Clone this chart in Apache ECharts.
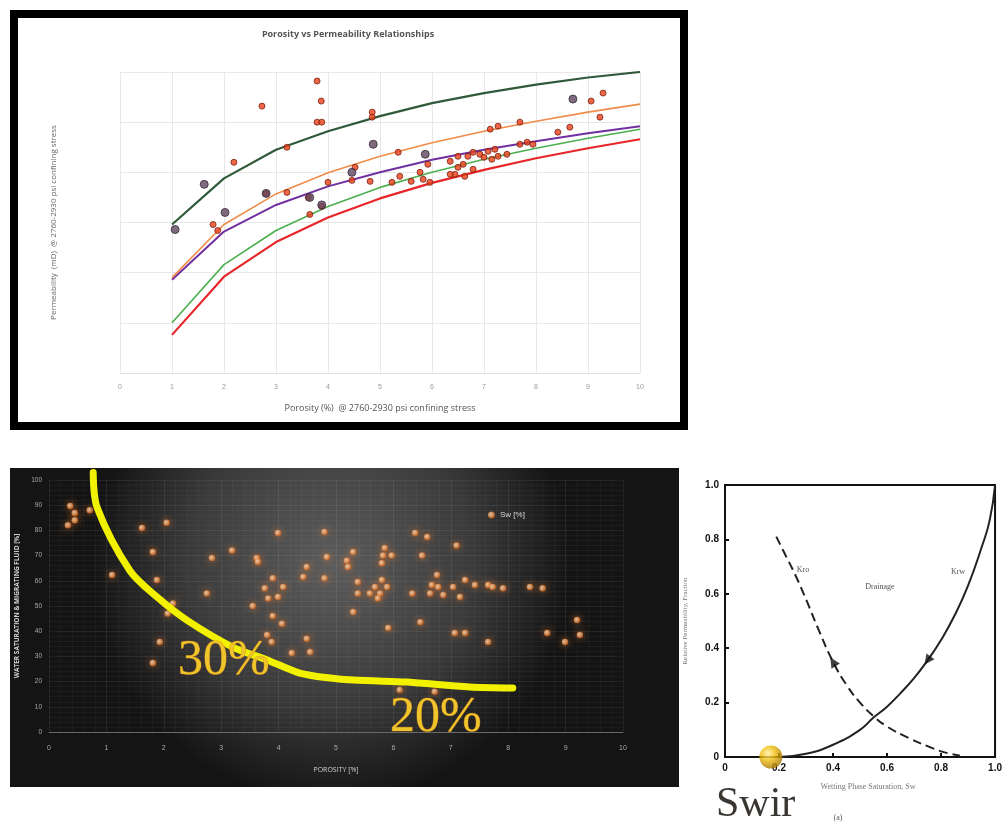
<!DOCTYPE html>
<html>
<head>
<meta charset="utf-8">
<script src="https://cdn.jsdelivr.net/npm/echarts@6/dist/echarts.min.js"></script>
<style>
html,body{margin:0;padding:0;background:#fff;}
#c{width:1005px;height:827px;}
</style>
</head>
<body>
<div id="c"></div>
<script>
// ---------- Top chart: Porosity vs Permeability ----------
const topTitle = 'Porosity vs Permeability Relationships';
const topXName = 'Porosity (%)  @ 2760-2930 psi confining stress';
const topYName = 'Permeability  (mD)  @ 2760-2930 psi confining stress';
const porosityX = [1, 2, 3, 4, 5, 6, 7, 8, 9, 10];
const curveDarkGreen = [2.96, 3.88, 4.45, 4.82, 5.12, 5.38, 5.58, 5.75, 5.89, 6.0];
const curveOrange    = [1.9, 2.96, 3.57, 3.99, 4.32, 4.59, 4.82, 5.02, 5.2, 5.36];
const curvePurple    = [1.86, 2.82, 3.35, 3.72, 4.0, 4.25, 4.45, 4.62, 4.78, 4.92];
const curveGreen     = [1.0, 2.16, 2.84, 3.32, 3.7, 4.0, 4.26, 4.48, 4.68, 4.86];
const curveRed       = [0.76, 1.92, 2.61, 3.1, 3.48, 3.79, 4.05, 4.28, 4.48, 4.66];
const topRedPts = [
  [1.79,2.96],[1.88,2.84],[2.19,4.2],[2.73,5.32],[3.21,4.5],[3.79,5.82],[3.87,5.42],[3.79,5.0],[3.88,5.0],
  [2.81,3.58],[3.21,3.6],[3.62,3.5],[3.88,3.32],[3.65,3.16],[4.0,3.8],[4.46,3.84],
  [4.85,5.2],[4.85,5.1],[4.52,4.1],[4.81,3.82],[5.35,4.4],[5.23,3.8],[5.38,3.92],[5.6,3.82],[5.77,4.0],
  [5.92,4.16],[5.83,3.86],[5.96,3.8],[6.35,4.22],[6.5,4.32],[6.44,3.96],[6.63,3.92],[6.6,4.16],[6.69,4.32],
  [6.79,4.4],[6.92,4.36],[6.79,4.06],[7.08,4.42],[7.21,4.46],[7.15,4.26],[7.27,4.32],[7.44,4.36],
  [7.12,4.86],[7.27,4.92],[7.69,5.0],[7.69,4.56],[7.83,4.6],[7.94,4.56],[8.42,4.8],[8.65,4.9],
  [9.06,5.42],[9.29,5.58],[9.23,5.1],[6.35,3.96],[6.5,4.1],[7.0,4.3]
];
const topDarkPts = [
  [1.06,2.86],[1.62,3.76],[2.02,3.2],[2.81,3.58],[3.65,3.5],[4.46,4.0],[4.87,4.56],[5.87,4.36],[8.71,5.46],[3.88,3.35]
];

// ---------- Bottom-left: Water saturation vs porosity ----------
const blXName = 'POROSITY [%]';
const blYName = 'WATER SATURATION & MIGRATING FLUID [%]';
const blLegend = 'Sw [%]';
const swPoints = [
  [0.37,89.7],[0.45,86.9],[0.45,84],[0.33,82],[0.71,88],[1.62,81],[2.05,83],[1.81,71.4],[1.1,62.3],
  [1.88,60.3],[2.16,51],[2.07,47],[1.93,35.7],[2.75,55],[2.84,69],[3.19,72],[3.62,69],[3.64,67.5],
  [3.99,79],[3.9,61],[3.76,57],[4.08,57.5],[3.82,53],[3.99,53.6],[3.55,50],[3.9,46],[4.06,43],
  [3.8,38.5],[3.88,35.7],[4.49,37],[4.43,61.5],[4.49,65.5],[4.8,61],[4.8,79.4],[4.84,69.4],
  [5.3,71.4],[5.19,68],[5.21,65.5],[5.85,73],[5.82,70],[5.97,70],[5.8,67],[6.38,79],[6.59,77.4],
  [7.1,74],[6.5,70],[5.38,59.5],[5.38,55],[5.59,55],[5.68,57.5],[5.8,60.3],[5.89,57.5],[5.77,55],
  [5.73,53],[5.3,47.6],[5.91,41.3],[6.33,55],[6.47,43.6],[6.76,62.3],[6.67,58.3],[6.78,57.5],
  [6.64,55],[6.87,54.4],[7.16,53.6],[7.25,60.3],[7.04,57.5],[7.42,58.3],[7.65,58.3],[7.73,57.5],
  [7.91,57],[7.07,39.3],[7.25,39.3],[7.65,35.7],[8.38,57.5],[8.6,57],[8.68,39.3],[8.99,35.7],
  [9.2,44.4],[9.25,38.5],[1.81,27.4],[4.23,31.3],[4.55,31.7],[6.11,16.7],[6.72,16.0]
];
const swCurve = [
  [0.77,103],[0.84,89],[1.41,64],[1.88,53.6],[2.4,44.4],[3.2,33.7],[3.8,28.6],[4.37,23.4],
  [4.9,21.4],[5.3,20.6],[6.24,19.8],[6.46,19.4],[7.33,17.9],[8.08,17.5]
];
const annot30 = '30%';
const annot20 = '20%';

// ---------- Bottom-right: relative permeability ----------
const brXName = 'Wetting Phase Saturation, Sw';
const brYName = 'Relative Permeability, Fraction';
const krwCurve = [
  [0.2,0],[0.3,0.012],[0.4,0.045],[0.5,0.1],[0.55,0.145],[0.6,0.185],[0.65,0.235],[0.7,0.29],
  [0.75,0.355],[0.8,0.43],[0.85,0.52],[0.9,0.63],[0.95,0.77],[0.98,0.87],[1.0,1.0]
];
const kroCurve = [
  [0.19,0.81],[0.22,0.75],[0.26,0.67],[0.3,0.58],[0.35,0.46],[0.4,0.35],[0.45,0.265],[0.5,0.2],
  [0.55,0.15],[0.6,0.112],[0.68,0.07],[0.75,0.04],[0.81,0.018],[0.87,0.005]
];
const krwArrow = [[0.75,0.355]];
const kroArrow = [[0.4,0.35]];
const swirPoint = [[0.17,0]];
const labelKro = 'Kro', labelKrw = 'Krw', labelDrainage = 'Drainage';
const labelSwir = 'Swir', labelA = '(a)';

const toPairs = (xs, ys) => xs.map((x, i) => [x, ys[i]]);

const chart = echarts.init(document.getElementById('c'), null, {renderer: 'canvas'});

const glowDot = {
  color: {type: 'radial', x: 0.4, y: 0.4, r: 0.6,
    colorStops: [{offset: 0, color: '#fde6cf'}, {offset: 0.55, color: '#f0a060'}, {offset: 1, color: '#c8601e'}]},
  shadowBlur: 7, shadowColor: 'rgba(235,120,40,0.85)'
};

const option = {
  animation: false,
  graphic: [
    {type: 'rect', z: -10, shape: {x: 14, y: 14, width: 670, height: 412},
      style: {fill: '#ffffff', stroke: '#000', lineWidth: 8}},
    {type: 'rect', z: -10, shape: {x: 10, y: 468, width: 669, height: 319},
      style: {fill: {type: 'radial', x: 0.48, y: 0.3, r: 0.75,
        colorStops: [{offset: 0, color: '#5c5c5c'}, {offset: 0.6, color: '#3a3a3a'}, {offset: 1, color: '#141414'}]}}},
    {type: 'text', z: 100, x: 348, y: 34, style: {text: topTitle, fill: '#555', font: 'bold 9px "Open Sans", sans-serif', textAlign: 'center', textVerticalAlign: 'middle'}},
    {type: 'text', z: 100, x: 178, y: 686, style: {text: annot30, font: '50px "Liberation Serif", serif', textVerticalAlign: 'bottom',
      fill: '#f0c52c', stroke: 'rgba(200,110,20,0.6)', lineWidth: 1}},
    {type: 'text', z: 100, x: 390, y: 743, style: {text: annot20, font: '50px "Liberation Serif", serif', textVerticalAlign: 'bottom',
      fill: '#f0c52c', stroke: 'rgba(200,110,20,0.6)', lineWidth: 1}},
    {type: 'text', z: 100, x: 803, y: 570, style: {text: labelKro, font: '8px "Liberation Serif", serif', fill: '#555', textAlign: 'center', textVerticalAlign: 'middle'}},
    {type: 'text', z: 100, x: 880, y: 587, style: {text: labelDrainage, font: '8px "Liberation Serif", serif', fill: '#555', textAlign: 'center', textVerticalAlign: 'middle'}},
    {type: 'text', z: 100, x: 958, y: 572, style: {text: labelKrw, font: '8px "Liberation Serif", serif', fill: '#555', textAlign: 'center', textVerticalAlign: 'middle'}},
    {type: 'text', z: 100, x: 868, y: 787, style: {text: brXName, font: '8px "Liberation Serif", serif', fill: '#777', textAlign: 'center', textVerticalAlign: 'middle'}},
    {type: 'text', z: 100, x: 716, y: 826, style: {text: labelSwir, font: '42px "Liberation Serif", serif', fill: '#3a3632', textVerticalAlign: 'bottom'}},
    {type: 'text', z: 100, x: 838, y: 818, style: {text: labelA, font: '8px "Liberation Serif", serif', fill: '#555', textAlign: 'center', textVerticalAlign: 'middle'}}
  ],
  legend: [{
    data: [{name: blLegend, icon: 'circle'}], left: 483, top: 506, itemWidth: 7, itemHeight: 7, itemGap: 3,
    textStyle: {color: '#d8d8d8', fontSize: 8}
  }],
  grid: [
    {left: 120, top: 72, width: 520, height: 301},
    {left: 49, top: 480, width: 574, height: 252},
    {left: 725, top: 485, width: 273, height: 272, show: true, borderColor: '#111', borderWidth: 2, backgroundColor: '#fff'}
  ],
  xAxis: [
    {gridIndex: 0, type: 'value', min: 0, max: 10, interval: 1, name: topXName, nameLocation: 'middle', nameGap: 31,
      nameTextStyle: {color: '#555', fontSize: 9, fontFamily: 'Open Sans'},
      axisLine: {lineStyle: {color: '#e0e0e0'}}, axisTick: {show: false},
      axisLabel: {color: '#999', fontSize: 7, margin: 11}, splitLine: {lineStyle: {color: '#e8e8e8'}}},
    {gridIndex: 1, type: 'value', min: 0, max: 10, interval: 1, name: blXName, nameLocation: 'middle', nameGap: 34,
      nameTextStyle: {color: '#cfcfcf', fontSize: 7, fontFamily: 'Open Sans'},
      axisLine: {lineStyle: {color: '#6a6a6a'}}, axisTick: {show: false},
      axisLabel: {color: '#aaa', fontSize: 7, margin: 13},
      splitLine: {lineStyle: {color: 'rgba(255,255,255,0.07)'}},
      minorTick: {show: false, splitNumber: 5}, minorSplitLine: {show: true, lineStyle: {color: 'rgba(255,255,255,0.035)'}}},
    {gridIndex: 2, type: 'value', min: 0, max: 1, interval: 0.2,
      axisLine: {lineStyle: {color: '#111', width: 2}},
      axisTick: {inside: true, length: 4, lineStyle: {color: '#111', width: 2}},
      axisLabel: {color: '#111', fontSize: 10, fontWeight: 'bold', margin: 6,
        formatter: v => v === 0 ? '0' : v.toFixed(1)},
      splitLine: {show: false}}
  ],
  yAxis: [
    {gridIndex: 0, type: 'value', min: 0, max: 6, interval: 1, name: topYName, nameLocation: 'middle', nameGap: 62,
      nameTextStyle: {color: '#666', fontSize: 8, fontFamily: 'Open Sans'},
      axisLine: {show: false}, axisTick: {show: false}, axisLabel: {show: false},
      splitLine: {lineStyle: {color: '#e8e8e8'}}},
    {gridIndex: 1, type: 'value', min: 0, max: 100, interval: 10, name: blYName, nameLocation: 'middle', nameGap: 22,
      nameTextStyle: {color: '#cfcfcf', fontSize: 6.5, fontWeight: 'bold', fontFamily: 'Open Sans'},
      axisLine: {show: false}, axisTick: {show: false}, axisLabel: {color: '#aaa', fontSize: 6.5, margin: 7},
      splitLine: {lineStyle: {color: 'rgba(255,255,255,0.07)'}},
      minorSplitLine: {show: true, lineStyle: {color: 'rgba(255,255,255,0.035)'}}},
    {gridIndex: 2, type: 'value', min: 0, max: 1, interval: 0.2, name: brYName, nameLocation: 'middle', nameGap: 36,
      nameTextStyle: {color: '#777', fontSize: 7, fontFamily: 'Liberation Serif'},
      axisLine: {lineStyle: {color: '#111', width: 2}},
      axisTick: {inside: true, length: 4, lineStyle: {color: '#111', width: 2}},
      axisLabel: {color: '#111', fontSize: 10, fontWeight: 'bold', margin: 6,
        formatter: v => v === 0 ? '0' : v.toFixed(1)},
      splitLine: {show: false}}
  ],
  series: [
    {type: 'line', xAxisIndex: 0, yAxisIndex: 0, data: toPairs(porosityX, curveRed), symbol: 'none', lineStyle: {color: '#e8262a', width: 2.2}, z: 3},
    {type: 'line', xAxisIndex: 0, yAxisIndex: 0, data: toPairs(porosityX, curveGreen), symbol: 'none', lineStyle: {color: '#4caf50', width: 1.6}, z: 3},
    {type: 'line', xAxisIndex: 0, yAxisIndex: 0, data: toPairs(porosityX, curvePurple), symbol: 'none', lineStyle: {color: '#7030a0', width: 2}, z: 3},
    {type: 'line', xAxisIndex: 0, yAxisIndex: 0, data: toPairs(porosityX, curveOrange), symbol: 'none', lineStyle: {color: '#f08c4a', width: 1.6}, z: 3},
    {type: 'line', xAxisIndex: 0, yAxisIndex: 0, data: toPairs(porosityX, curveDarkGreen), symbol: 'none', lineStyle: {color: '#2f5a3a', width: 2.2}, z: 3},
    {type: 'scatter', xAxisIndex: 0, yAxisIndex: 0, data: topRedPts, symbolSize: 6,
      itemStyle: {color: '#e8401a', borderColor: '#7a2010', borderWidth: 1}, z: 4},
    {type: 'scatter', xAxisIndex: 0, yAxisIndex: 0, data: topDarkPts, symbolSize: 8,
      itemStyle: {color: '#5f4660', borderColor: '#3a2a3a', borderWidth: 1}, z: 4},

    {type: 'scatter', name: blLegend, xAxisIndex: 1, yAxisIndex: 1, data: swPoints, symbolSize: 6.5, itemStyle: glowDot, z: 4},
    {type: 'line', xAxisIndex: 1, yAxisIndex: 1, data: swCurve, symbol: 'none', smooth: 0.3, clip: false,
      lineStyle: {color: '#f2f200', width: 7, cap: 'round', join: 'round'}, z: 5},

    {type: 'line', xAxisIndex: 2, yAxisIndex: 2, data: krwCurve, symbol: 'none', smooth: true,
      lineStyle: {color: '#222', width: 2}, z: 4},
    {type: 'line', xAxisIndex: 2, yAxisIndex: 2, data: kroCurve, symbol: 'none', smooth: true,
      lineStyle: {color: '#222', width: 2, type: [9, 5]}, z: 4},
    {type: 'scatter', xAxisIndex: 2, yAxisIndex: 2, data: krwArrow, symbol: 'triangle', symbolSize: 10, symbolRotate: 144,
      itemStyle: {color: '#111'}, z: 5},
    {type: 'scatter', xAxisIndex: 2, yAxisIndex: 2, data: kroArrow, symbol: 'triangle', symbolSize: 10, symbolRotate: 32,
      itemStyle: {color: '#111'}, z: 5},
    {type: 'scatter', xAxisIndex: 2, yAxisIndex: 2, data: swirPoint, symbolSize: 23, clip: false,
      itemStyle: {color: {type: 'radial', x: 0.38, y: 0.35, r: 0.65,
        colorStops: [{offset: 0, color: '#fff1a0'}, {offset: 0.45, color: '#f2c010'}, {offset: 1, color: '#a87800'}]}}, z: 6}
  ]
};
chart.setOption(option);
</script>
</body>
</html>
